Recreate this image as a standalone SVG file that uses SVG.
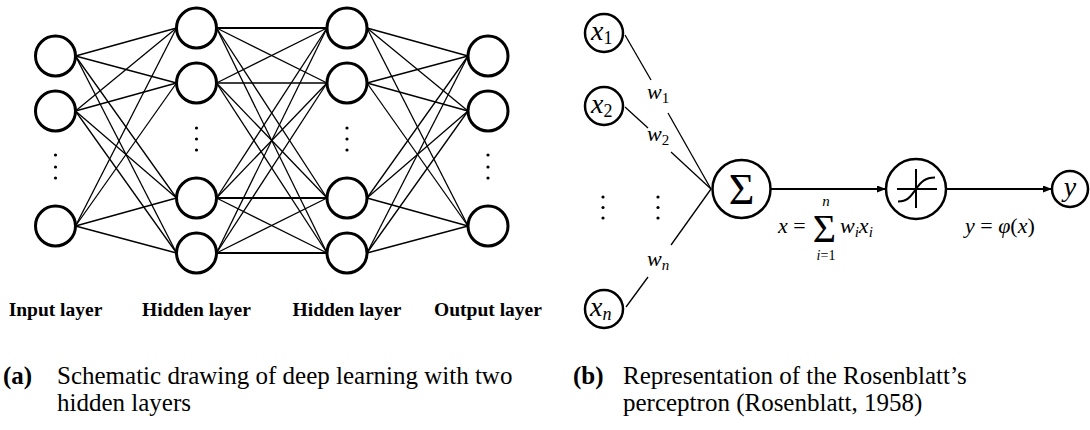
<svg xmlns="http://www.w3.org/2000/svg" width="1090" height="430" viewBox="0 0 1090 430">
<style>
  .n { fill: #fff; stroke: #000; stroke-width: 3; }
  .p { fill: #fff; stroke: #000; stroke-width: 2.5; }
  .c { stroke: #000; stroke-width: 1.3; fill: none; }
  .h { stroke: #000; stroke-width: 2.2; }
  .a { stroke: #000; stroke-width: 2; fill: none; }
  .dot { fill: #000; }
  .lab { font-family: "Liberation Serif", "Times New Roman", serif; font-weight: bold; font-size: 19.5px; text-anchor: middle; }
  .cap { font-family: "Liberation Serif", "Times New Roman", serif; font-size: 25px; }
  .m { font-family: "Liberation Serif", "Times New Roman", serif; }
  .i { font-style: italic; }
</style>
<defs>
  <marker id="arr" markerWidth="9" markerHeight="7" refX="8" refY="3.5" orient="auto" markerUnits="userSpaceOnUse">
    <path d="M0,0 L9,3.5 L0,7 z" fill="#000"/>
  </marker>
</defs>

<g id="connectors">
  <!-- input -> hidden1 -->
  <line class="c" x1="75.5" y1="56" x2="176.5" y2="28"/>
  <line class="c" x1="75.5" y1="56" x2="176.5" y2="83"/>
  <line class="c" x1="75.5" y1="56" x2="176.5" y2="198"/>
  <line class="c" x1="75.5" y1="56" x2="176.5" y2="253"/>
  <line class="c" x1="75.5" y1="111" x2="176.5" y2="28"/>
  <line class="c" x1="75.5" y1="111" x2="176.5" y2="83"/>
  <line class="c" x1="75.5" y1="111" x2="176.5" y2="198"/>
  <line class="c" x1="75.5" y1="111" x2="176.5" y2="253"/>
  <line class="c" x1="75.5" y1="226" x2="176.5" y2="28"/>
  <line class="c" x1="75.5" y1="226" x2="176.5" y2="83"/>
  <line class="c" x1="75.5" y1="226" x2="176.5" y2="198"/>
  <line class="c" x1="75.5" y1="226" x2="176.5" y2="253"/>
  <!-- hidden1 -> hidden2 -->
  <line class="h" x1="216.5" y1="28" x2="327" y2="28"/>
  <line class="c" x1="216.5" y1="28" x2="327" y2="83"/>
  <line class="c" x1="216.5" y1="28" x2="327" y2="198"/>
  <line class="c" x1="216.5" y1="28" x2="327" y2="253"/>
  <line class="c" x1="216.5" y1="83" x2="327" y2="28"/>
  <line class="c" x1="216.5" y1="83" x2="327" y2="83"/>
  <line class="c" x1="216.5" y1="83" x2="327" y2="198"/>
  <line class="c" x1="216.5" y1="83" x2="327" y2="253"/>
  <line class="c" x1="216.5" y1="198" x2="327" y2="28"/>
  <line class="c" x1="216.5" y1="198" x2="327" y2="83"/>
  <line class="h" x1="216.5" y1="198" x2="327" y2="198"/>
  <line class="c" x1="216.5" y1="198" x2="327" y2="253"/>
  <line class="c" x1="216.5" y1="253" x2="327" y2="28"/>
  <line class="c" x1="216.5" y1="253" x2="327" y2="83"/>
  <line class="c" x1="216.5" y1="253" x2="327" y2="198"/>
  <line class="h" x1="216.5" y1="253" x2="327" y2="253"/>
  <!-- hidden2 -> output -->
  <line class="c" x1="367" y1="28" x2="468" y2="56"/>
  <line class="c" x1="367" y1="28" x2="468" y2="111"/>
  <line class="c" x1="367" y1="28" x2="468" y2="226"/>
  <line class="c" x1="367" y1="83" x2="468" y2="56"/>
  <line class="c" x1="367" y1="83" x2="468" y2="111"/>
  <line class="c" x1="367" y1="83" x2="468" y2="226"/>
  <line class="c" x1="367" y1="198" x2="468" y2="56"/>
  <line class="c" x1="367" y1="198" x2="468" y2="111"/>
  <line class="c" x1="367" y1="198" x2="468" y2="226"/>
  <line class="c" x1="367" y1="253" x2="468" y2="56"/>
  <line class="c" x1="367" y1="253" x2="468" y2="111"/>
  <line class="c" x1="367" y1="253" x2="468" y2="226"/>
  <!-- perceptron inputs -> sum (with gaps for weight labels) -->
  <line class="c" x1="625" y1="35" x2="651" y2="80"/>
  <line class="c" x1="668" y1="113" x2="711" y2="189"/>
  <line class="c" x1="625" y1="107" x2="648" y2="128"/>
  <line class="c" x1="671" y1="152" x2="711" y2="189"/>
  <line class="c" x1="626" y1="307" x2="648" y2="277"/>
  <line class="c" x1="671" y1="245" x2="711" y2="189"/>
  <!-- arrows -->
  <line class="a" x1="771" y1="189" x2="885" y2="189" marker-end="url(#arr)"/>
  <line class="a" x1="946" y1="189" x2="1051" y2="189" marker-end="url(#arr)"/>
</g>

<!-- (a) network nodes -->
<g id="input-layer">
  <circle class="n" cx="55.5" cy="56" r="20"/>
  <circle class="n" cx="55.5" cy="111" r="20"/>
  <circle class="dot" cx="55.5" cy="155" r="1.6"/>
  <circle class="dot" cx="55.5" cy="167" r="1.6"/>
  <circle class="dot" cx="55.5" cy="178" r="1.6"/>
  <circle class="n" cx="55.5" cy="226" r="20"/>
  <text class="lab" x="55.5" y="316">Input layer</text>
</g>
<g id="hidden-layer-1">
  <circle class="n" cx="196.5" cy="28" r="20"/>
  <circle class="n" cx="196.5" cy="83" r="20"/>
  <circle class="dot" cx="196.5" cy="128" r="1.6"/>
  <circle class="dot" cx="196.5" cy="139" r="1.6"/>
  <circle class="dot" cx="196.5" cy="150" r="1.6"/>
  <circle class="n" cx="196.5" cy="198" r="20"/>
  <circle class="n" cx="196.5" cy="253" r="20"/>
  <text class="lab" x="196.5" y="316">Hidden layer</text>
</g>
<g id="hidden-layer-2">
  <circle class="n" cx="347" cy="28" r="20"/>
  <circle class="n" cx="347" cy="83" r="20"/>
  <circle class="dot" cx="347" cy="128" r="1.6"/>
  <circle class="dot" cx="347" cy="139" r="1.6"/>
  <circle class="dot" cx="347" cy="150" r="1.6"/>
  <circle class="n" cx="347" cy="198" r="20"/>
  <circle class="n" cx="347" cy="253" r="20"/>
  <text class="lab" x="347" y="316">Hidden layer</text>
</g>
<g id="output-layer">
  <circle class="n" cx="488" cy="56" r="20"/>
  <circle class="n" cx="488" cy="111" r="20"/>
  <circle class="dot" cx="488" cy="155" r="1.6"/>
  <circle class="dot" cx="488" cy="167" r="1.6"/>
  <circle class="dot" cx="488" cy="178" r="1.6"/>
  <circle class="n" cx="488" cy="226" r="20"/>
  <text class="lab" x="488" y="316">Output layer</text>
</g>

<!-- (b) perceptron -->
<g id="x1">
  <circle class="p" cx="604" cy="33" r="19"/>
  <text class="m" x="591" y="40" font-size="28"><tspan class="i">x</tspan><tspan font-size="18" dy="4">1</tspan></text>
</g>
<g id="x2">
  <circle class="p" cx="604" cy="106" r="19"/>
  <text class="m" x="591" y="113" font-size="28"><tspan class="i">x</tspan><tspan font-size="18" dy="4">2</tspan></text>
</g>
<g id="xdots">
  <circle class="dot" cx="603" cy="197" r="1.6"/>
  <circle class="dot" cx="603" cy="207.5" r="1.6"/>
  <circle class="dot" cx="603" cy="218" r="1.6"/>
  <circle class="dot" cx="658" cy="197" r="1.6"/>
  <circle class="dot" cx="658" cy="207.5" r="1.6"/>
  <circle class="dot" cx="658" cy="218" r="1.6"/>
</g>
<g id="xn">
  <circle class="p" cx="604" cy="309" r="19"/>
  <text class="m" x="590" y="316" font-size="28"><tspan class="i">x</tspan><tspan class="i" font-size="18" dy="4">n</tspan></text>
</g>
<g id="weights">
  <text class="m" x="647" y="99" font-size="22"><tspan class="i">w</tspan><tspan font-size="15" dy="4">1</tspan></text>
  <text class="m" x="647" y="141" font-size="22"><tspan class="i">w</tspan><tspan font-size="15" dy="4">2</tspan></text>
  <text class="m" x="647" y="266" font-size="22"><tspan class="i">w</tspan><tspan class="i" font-size="15" dy="4">n</tspan></text>
</g>
<g id="sum">
  <circle class="p" cx="741.5" cy="189" r="29"/>
  <text class="m" x="741.5" y="204" font-size="44" text-anchor="middle">Σ</text>
</g>
<g id="activation">
  <circle class="p" cx="916" cy="189" r="30"/>
  <line x1="897" y1="189" x2="937" y2="189" stroke="#000" stroke-width="2"/>
  <line x1="916" y1="169" x2="916" y2="208" stroke="#000" stroke-width="2"/>
  <path d="M898,201.5 C908,201.5 911,196 916,189 C921,182 925,177.5 935,177.5" fill="none" stroke="#000" stroke-width="2"/>
</g>
<g id="y">
  <circle class="p" cx="1070" cy="189" r="18"/>
  <text class="m i" x="1070" y="196" font-size="28" text-anchor="middle">y</text>
</g>
<g id="formulas">
  <text class="m" x="778" y="233" font-size="22"><tspan class="i">x</tspan> =</text>
  <text class="m" x="824.5" y="242" font-size="40" text-anchor="middle">Σ</text>
  <text class="m i" x="826" y="206" font-size="15" text-anchor="middle">n</text>
  <text class="m" x="826" y="260" font-size="14" text-anchor="middle"><tspan class="i">i</tspan>=1</text>
  <text class="m" x="840" y="233" font-size="22"><tspan class="i">w</tspan><tspan class="i" font-size="15" dy="4">i</tspan><tspan class="i" dy="-4">x</tspan><tspan class="i" font-size="15" dy="4">i</tspan></text>
  <text class="m" x="965" y="233" font-size="22"><tspan class="i">y</tspan> = <tspan class="i">φ</tspan>(<tspan class="i">x</tspan>)</text>
</g>

<!-- captions -->
<g id="captions">
  <text class="cap" x="3" y="384"><tspan font-weight="bold">(a)</tspan></text>
  <text class="cap" x="57" y="384">Schematic drawing of deep learning with two</text>
  <text class="cap" x="57" y="411">hidden layers</text>
  <text class="cap" x="573" y="384"><tspan font-weight="bold">(b)</tspan></text>
  <text class="cap" x="623" y="384">Representation of the Rosenblatt’s</text>
  <text class="cap" x="623" y="411">perceptron (Rosenblatt, 1958)</text>
</g>
</svg>
